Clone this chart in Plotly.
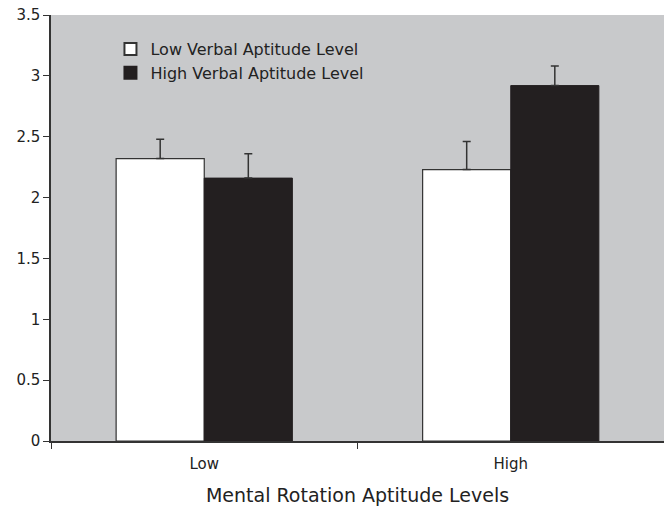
import plotly.graph_objects as go

categories = ["Low", "High"]
low_verbal = [2.32, 2.23]
high_verbal = [2.16, 2.92]
low_verbal_err = [0.16, 0.23]
high_verbal_err = [0.20, 0.16]
y_ticks = [0, 0.5, 1, 1.5, 2, 2.5, 3, 3.5]
y_tick_labels = ["0", "0.5", "1", "1.5", "2", "2.5", "3", "3.5"]

FONT = "Verdana, DejaVu Sans, sans-serif"
INK = "#333333"

fig = go.Figure()
fig.add_trace(go.Bar(
    x=categories, y=low_verbal, name="Low Verbal Aptitude Level",
    marker=dict(color="white", line=dict(color=INK, width=1.2)),
    error_y=dict(type="data", array=low_verbal_err, symmetric=False,
                 arrayminus=[0, 0], color=INK, thickness=1.5, width=4),
))
fig.add_trace(go.Bar(
    x=categories, y=high_verbal, name="High Verbal Aptitude Level",
    marker=dict(color="#231f20", line=dict(color="#231f20", width=1)),
    error_y=dict(type="data", array=high_verbal_err, symmetric=False,
                 arrayminus=[0, 0], color=INK, thickness=1.5, width=4),
))

fig.update_layout(
    width=664, height=506,
    margin=dict(l=51, r=0, t=15, b=65),
    paper_bgcolor="white", plot_bgcolor="#c8c9cb",
    barmode="group", bargap=0.425, bargroupgap=0,
    font=dict(family=FONT, size=15, color="#222222"),
    showlegend=True,
    legend=dict(x=0.097, y=0.96, xanchor="left", yanchor="top",
                bgcolor="rgba(0,0,0,0)", font=dict(size=16, family=FONT),
                tracegroupgap=0, itemsizing="constant"),
    xaxis=dict(
        range=[-0.5, 1.5], showgrid=False, showline=True, linecolor=INK, linewidth=1.5,
        ticks="outside", tickson="boundaries", ticklen=6, tickcolor=INK,
        ticklabelstandoff=8,
        tickfont=dict(size=15, family=FONT),
        title=dict(text="Mental Rotation Aptitude Levels", font=dict(size=19, family=FONT), standoff=20),
    ),
    yaxis=dict(
        range=[0, 3.5], tickvals=y_ticks, ticktext=y_tick_labels, showgrid=False,
        showline=True, linecolor=INK, linewidth=1.5, ticks="outside", ticklen=6,
        tickcolor=INK, tickfont=dict(size=15, family=FONT), zeroline=False,
        ticklabeloverflow="allow",
    ),
)

fig.write_html("out.html", config={"displayModeBar": False},
               post_script="document.body.style.margin='0px';document.body.style.overflow='hidden';")
